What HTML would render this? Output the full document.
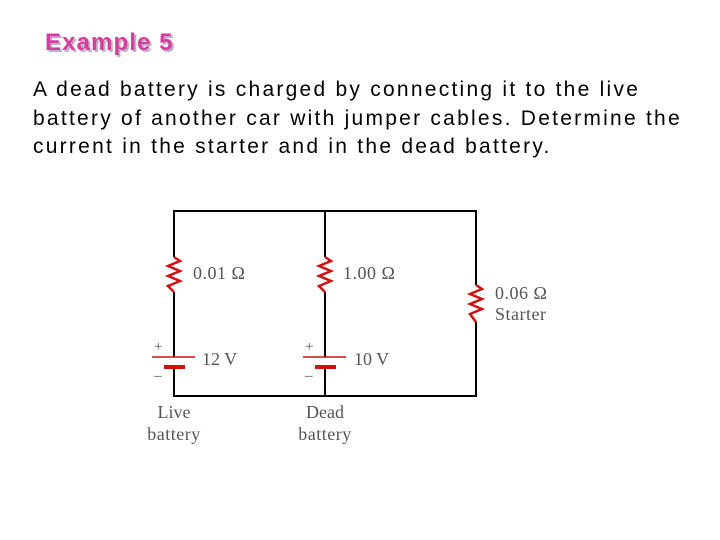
<!DOCTYPE html>
<html><head><style>
body{margin:0;width:720px;height:540px;background:#fff;overflow:hidden;position:relative;font-family:"Liberation Sans",sans-serif}
.t{position:absolute;left:45px;top:29px;font-size:24px;font-weight:bold;color:#d43f9e;text-shadow:2px 2px 1px #b9a9c9;letter-spacing:1.1px}
.p{position:absolute;left:33px;top:76px;font-size:21px;line-height:28.5px;color:#000;white-space:nowrap;letter-spacing:2.25px}
</style></head><body>
<div class="t">Example 5</div>
<div class="p">A dead battery is charged by connecting it to the live<br>battery of another car with jumper cables. Determine the<br>current in the starter and in the dead battery.</div>
<svg width="720" height="540" style="position:absolute;left:0;top:0" font-family="Liberation Serif,serif" font-size="18" fill="#555">
<g stroke="#000" stroke-width="2" fill="none">
<polyline points="174,257 174,211 476,211 476,285"/>
<line x1="325" y1="211" x2="325" y2="257"/>
<line x1="174" y1="292" x2="174" y2="357"/>
<line x1="325" y1="292" x2="325" y2="357"/>
<polyline points="174,367 174,396 476,396 476,322"/>
<line x1="325" y1="367" x2="325" y2="396"/>
</g>
<g stroke="#d01010" stroke-width="2.5" fill="none">
<polyline points="174,257 180,261 168,266 180,271 168,276 180,281 168,286 174,292"/>
<polyline points="325,257 331,261 319,266 331,271 319,276 331,281 319,286 325,292"/>
<polyline points="476,285 482,289 470,294 482,299 470,304 482,309 470,314 476,322"/>
<line x1="152" y1="357" x2="195" y2="357" stroke-width="1.5"/>
<line x1="303" y1="357" x2="346" y2="357" stroke-width="1.5"/>
<line x1="164" y1="367" x2="185" y2="367" stroke-width="4"/>
<line x1="315" y1="367" x2="336" y2="367" stroke-width="4"/>
</g>
<text x="193" y="279" letter-spacing="0.5">0.01 Ω</text>
<text x="343" y="279" letter-spacing="0.5">1.00 Ω</text>
<text x="495" y="299" letter-spacing="0.5">0.06 Ω</text>
<text x="495" y="320" letter-spacing="0.5">Starter</text>
<text x="202" y="365">12 V</text>
<text x="354" y="365">10 V</text>
<text x="154" y="351" font-size="15">+</text>
<text x="305" y="351" font-size="15">+</text>
<text x="154" y="380" font-size="15">–</text>
<text x="305" y="380" font-size="15">–</text>
<text x="174" y="418" text-anchor="middle">Live</text>
<text x="174" y="440" text-anchor="middle" letter-spacing="0.5">battery</text>
<text x="325" y="418" text-anchor="middle">Dead</text>
<text x="325" y="440" text-anchor="middle" letter-spacing="0.5">battery</text>
</svg>
</body></html>
